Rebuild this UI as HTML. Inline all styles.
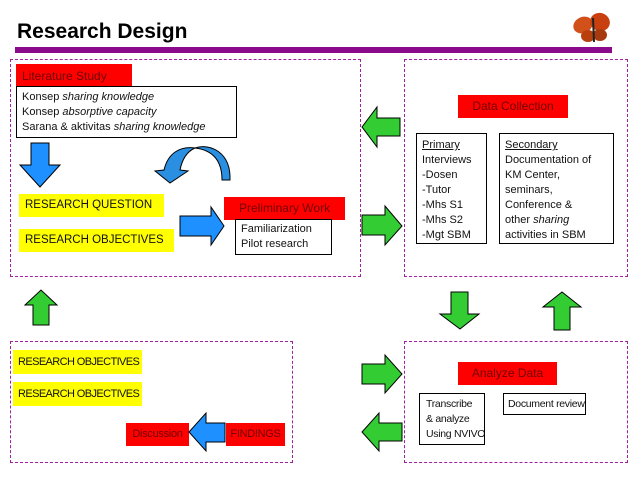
<!DOCTYPE html>
<html><head><meta charset="utf-8"><style>
body{margin:0;width:638px;height:479px;background:#fff;position:relative;overflow:hidden;font-family:"Liberation Sans","DejaVu Sans",sans-serif;}
.a{position:absolute;box-sizing:border-box;white-space:nowrap;overflow:hidden;}
.dash{border:1px dashed #a020a0;}
.red{background:#f00;color:#700000;font-size:12px;text-align:center;}
.yel{background:#ff0;color:#111;font-size:11.5px;padding-left:6px;}
.bx{border:1px solid #000;background:#fff;font-size:11px;line-height:15px;color:#111;padding:2px 5px;}
svg{position:absolute;left:0;top:0;}
</style></head><body>
<div class="a" style="left:17px;top:20px;font-size:21px;font-weight:bold;color:#000;">Research Design</div>
<div class="a" style="left:15px;top:47px;width:597px;height:6px;background:#8b0a8b;"></div>

<div class="a dash" style="left:10px;top:59px;width:351px;height:218px;"></div>
<div class="a dash" style="left:404px;top:59px;width:224px;height:218px;"></div>
<div class="a dash" style="left:10px;top:341px;width:283px;height:122px;"></div>
<div class="a dash" style="left:404px;top:341px;width:224px;height:122px;"></div>

<div class="a red" style="left:16px;top:64px;width:116px;height:24px;line-height:24px;text-align:left;padding-left:6px;">Literature Study</div>
<div class="a bx" style="left:16px;top:86px;width:221px;height:52px;padding-top:3px;">Konsep <i>sharing knowledge</i><br>Konsep <i>absorptive capacity</i><br>Sarana &amp; aktivitas <i>sharing knowledge</i></div>

<div class="a yel" style="left:19px;top:194px;width:145px;height:23px;line-height:23px;">RESEARCH QUESTION</div>
<div class="a yel" style="left:19px;top:229px;width:155px;height:23px;line-height:23px;">RESEARCH OBJECTIVES</div>
<div class="a red" style="left:224px;top:197px;width:121px;height:23px;line-height:23px;">Preliminary Work</div>
<div class="a bx" style="left:235px;top:219px;width:97px;height:36px;padding-top:2px;">Familiarization<br>Pilot research</div>

<div class="a red" style="left:458px;top:95px;width:110px;height:23px;line-height:23px;">Data Collection</div>
<div class="a bx" style="left:416px;top:133px;width:71px;height:111px;padding-top:4px;"><u>Primary</u><br>Interviews<br>-Dosen<br>-Tutor<br>-Mhs S1<br>-Mhs S2<br>-Mgt SBM</div>
<div class="a bx" style="left:499px;top:133px;width:115px;height:111px;padding-top:4px;"><u>Secondary</u><br>Documentation of<br>KM Center,<br>seminars,<br>Conference &amp;<br>other <i>sharing</i><br>activities in SBM</div>

<div class="a yel" style="left:13px;top:350px;width:129px;height:24px;line-height:24px;font-size:11px;letter-spacing:-0.6px;padding-left:5px;">RESEARCH OBJECTIVES</div>
<div class="a yel" style="left:13px;top:382px;width:129px;height:24px;line-height:24px;font-size:11px;letter-spacing:-0.6px;padding-left:5px;">RESEARCH OBJECTIVES</div>
<div class="a red" style="left:126px;top:423px;width:63px;height:23px;line-height:23px;font-size:11px;letter-spacing:-0.3px;">Discussion</div>
<div class="a red" style="left:226px;top:423px;width:59px;height:23px;line-height:23px;font-size:11px;letter-spacing:-0.3px;">FINDINGS</div>

<div class="a red" style="left:458px;top:362px;width:99px;height:23px;line-height:23px;">Analyze Data</div>
<div class="a bx" style="left:419px;top:393px;width:66px;height:52px;padding:3px 3px 0 6px;font-size:10.5px;letter-spacing:-0.3px;">Transcribe<br>&amp; analyze<br>Using NVIVO</div>
<div class="a bx" style="left:503px;top:393px;width:83px;height:22px;line-height:17px;font-size:10.5px;letter-spacing:-0.3px;padding:2px 4px;">Document review</div>

<svg width="638" height="479" viewBox="0 0 638 479">
<g stroke="#000" stroke-width="1">
<polygon points="31,143 49,143 49,165 60,165 40,187 20,165 31,165" fill="#1e90ff"/>
<polygon points="180,216 211,216 211,207 224,226 211,245 211,236 180,236" fill="#1e90ff"/>
<polygon points="225,423 206,423 206,413 189,432 206,451 206,442 225,442" fill="#1e90ff"/>
<path d="M230,180 C231,152 210,143 195,148 C186,152 182,160 180,170 L188,171 L170,183 L155,171 L164,170 C168,153 180,146 195,148 C212,150 222,160 222,180 Z" fill="#2a8fe0"/>
<polygon points="400,118 377,118 377,107 362,127 377,147 377,136 400,136" fill="#33cc33"/>
<polygon points="362,215 385,215 385,206 402,226 385,245 385,235 362,235" fill="#33cc33"/>
<polygon points="362,364 385,364 385,355 402,374 385,393 385,384 362,384" fill="#33cc33"/>
<polygon points="402,423 379,423 379,413 362,432 379,451 379,441 402,441" fill="#33cc33"/>
<polygon points="33,325 49,325 49,305 57,305 41,290 25,305 33,305" fill="#33cc33"/>
<polygon points="451,292 468,292 468,314 479,314 460,329 440,314 451,314" fill="#33cc33"/>
<polygon points="554,330 570,330 570,307 581,307 562,292 543,307 554,307" fill="#33cc33"/>
</g>
<g transform="translate(592,28)">
<ellipse cx="-9" cy="-3" rx="10" ry="8" fill="#d2501a" transform="rotate(-25 -9 -3)"/>
<ellipse cx="8" cy="-6" rx="10" ry="9" fill="#c84010" transform="rotate(20 8 -6)"/>
<ellipse cx="-4" cy="8" rx="7" ry="6" fill="#b8400f"/>
<ellipse cx="8" cy="7" rx="7" ry="6" fill="#a83a10"/>
<line x1="1" y1="-10" x2="2" y2="14" stroke="#222" stroke-width="2"/>
</g>
</svg>
</body></html>
